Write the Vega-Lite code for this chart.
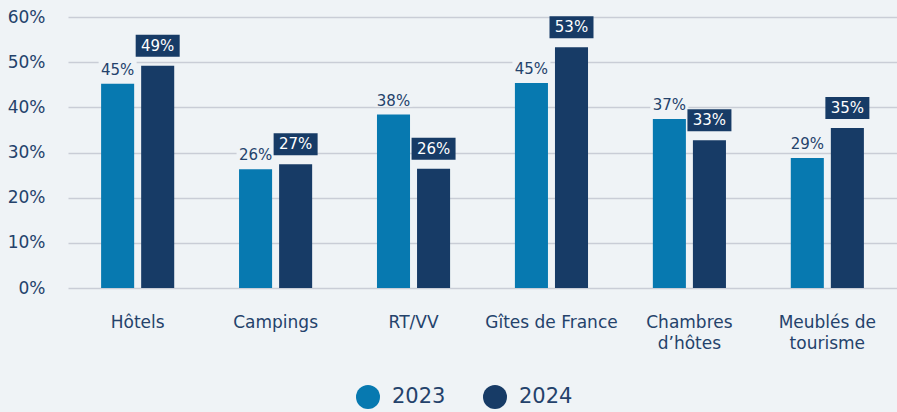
{
  "$schema": "https://vega.github.io/schema/vega-lite/v6.json",
  "width": 829,
  "height": 271,
  "autosize": {"type": "none"},
  "padding": {"left": 68, "top": 17, "right": 0, "bottom": 124},
  "background": "#eff3f6",
  "config": {"view": {"stroke": null}, "font": "DejaVu Sans"},
  "data": {
    "values": [
      {"cat": "Hôtels", "year": "2023", "v": 0.452},
      {"cat": "Hôtels", "year": "2024", "v": 0.492},
      {"cat": "Campings", "year": "2023", "v": 0.263},
      {"cat": "Campings", "year": "2024", "v": 0.274},
      {"cat": "RT/VV", "year": "2023", "v": 0.384},
      {"cat": "RT/VV", "year": "2024", "v": 0.264},
      {"cat": "Gîtes de France", "year": "2023", "v": 0.454},
      {"cat": "Gîtes de France", "year": "2024", "v": 0.533},
      {"cat": "Chambres d’hôtes", "year": "2023", "v": 0.374},
      {"cat": "Chambres d’hôtes", "year": "2024", "v": 0.327},
      {"cat": "Meublés de tourisme", "year": "2023", "v": 0.288},
      {"cat": "Meublés de tourisme", "year": "2024", "v": 0.354}
    ]
  },
  "encoding": {
    "x": {
      "field": "cat",
      "type": "nominal",
      "sort": null,
      "scale": {"paddingInner": 0.47, "paddingOuter": 0.24},
      "axis": {
        "title": null,
        "domain": false,
        "ticks": false,
        "labelAngle": 0,
        "labelFontSize": 17,
        "labelColor": "#24426b",
        "labelPadding": 26,
        "labelLineHeight": 21,
        "labelLimit": 0,
        "labelExpr": "datum.label == 'Chambres d’hôtes' ? ['Chambres', 'd’hôtes'] : datum.label == 'Meublés de tourisme' ? ['Meublés de', 'tourisme'] : datum.label"
      }
    },
    "xOffset": {
      "field": "year",
      "type": "nominal",
      "scale": {"paddingInner": 0.175, "paddingOuter": 0}
    },
    "y": {
      "field": "v",
      "type": "quantitative",
      "scale": {"domain": [0, 0.6]},
      "axis": {
        "title": null,
        "format": ".0%",
        "values": [0, 0.1, 0.2, 0.3, 0.4, 0.5, 0.6],
        "domain": false,
        "ticks": false,
        "labelFontSize": 17,
        "labelColor": "#24426b",
        "labelPadding": 23,
        "gridColor": "#c9cdd6",
        "gridWidth": 1.5
      }
    }
  },
  "layer": [
    {
      "mark": {"type": "bar"},
      "encoding": {
        "color": {
          "field": "year",
          "type": "nominal",
          "scale": {"domain": ["2023", "2024"], "range": ["#0779b0", "#173b66"]},
          "legend": {
            "title": null,
            "orient": "none",
            "legendX": 288,
            "legendY": 368,
            "direction": "horizontal",
            "symbolType": "circle",
            "symbolSize": 576,
            "symbolStrokeWidth": 0,
            "labelFontSize": 21,
            "labelColor": "#24426b",
            "labelOffset": 12,
            "columnPadding": 37,
            "padding": 0
          }
        }
      }
    },
    {
      "transform": [{"filter": "datum.year == '2023'"}],
      "mark": {"type": "bar", "width": 38, "yOffset": -23, "y2Offset": -8, "color": "#eff3f6"},
      "encoding": {"y2": {"field": "v"}}
    },
    {
      "transform": [{"filter": "datum.year == '2023'"}],
      "mark": {"type": "text", "dy": -9, "baseline": "alphabetic", "color": "#24426b", "fontSize": 15},
      "encoding": {"text": {"field": "v", "type": "quantitative", "format": ".0%"}}
    },
    {
      "transform": [{"filter": "datum.year == '2024'"}],
      "mark": {"type": "bar", "width": 44, "yOffset": -31, "y2Offset": -9, "color": "#173b66"},
      "encoding": {"y2": {"field": "v"}}
    },
    {
      "transform": [{"filter": "datum.year == '2024'"}],
      "mark": {"type": "text", "dy": -20, "baseline": "middle", "color": "white", "fontSize": 15},
      "encoding": {"text": {"field": "v", "type": "quantitative", "format": ".0%"}}
    }
  ]
}
